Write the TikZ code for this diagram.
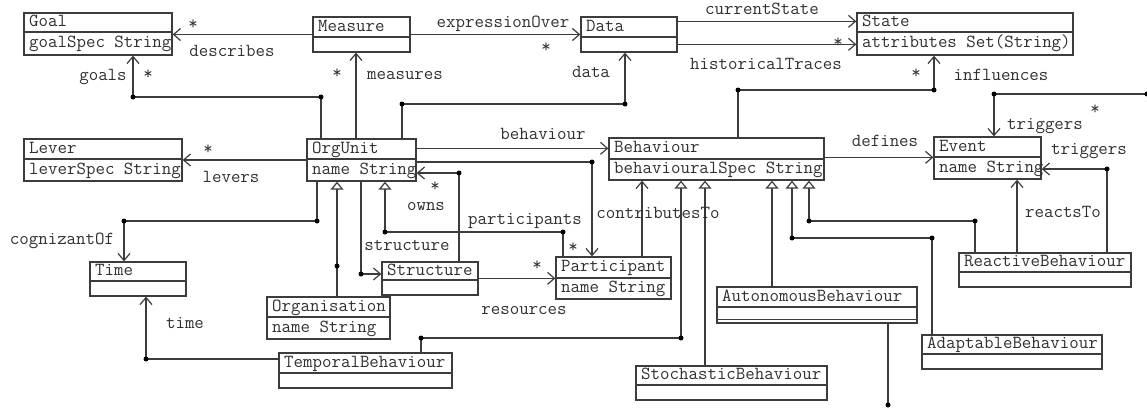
\documentclass[tikz,border=0pt]{standalone}
\usepackage{fontspec}
\usetikzlibrary{arrows.meta,calc}
\definecolor{linec}{HTML}{3C3C3C}
\definecolor{textc}{HTML}{303030}
\newcommand\umlfont{\ttfamily\fontsize{18.4}{21}\selectfont}
% class box: name, left, top, right, divider, bottom, title, attribute
\newcommand\umlclass[8]{%
  \node[classbox, minimum width={#4-#2}, minimum height={#6-#3}] (#1) at ({(#2+#4)/2},{(#3+#6)/2}) {};
  \draw[ink] (#2,#5) -- (#4,#5);
  \node[txt, anchor=west] (#1-name) at ({#2+5},{(#3+#5)/2}) {#7};
  \node[txt, anchor=west] (#1-attr) at ({#2+5},{(#5+#6)/2}) {#8};
}
\begin{document}
\begin{tikzpicture}[x=1pt,y=-1pt,
  ink/.style={draw=linec, line width=1.3pt},
  classbox/.style={ink, rectangle, inner sep=0pt, fill=white},
  txt/.style={font=\umlfont, text=textc, inner sep=0pt, text height=11pt, text depth=3pt},
  mult/.style={txt, anchor=base},
  nav/.style={ink, -{Straight Barb[length=7pt,width=12pt,line width=1.2pt]}},
  gen/.style={ink, -{Triangle[open,length=8pt,width=13pt,fill=white,line width=1.2pt]}},
  jdot/.style={circle, fill=black, inner sep=0pt, minimum size=5pt},
]
\useasboundingbox (0,0) rectangle (1147,407);

% classes
\umlclass{goal}{24}{13}{172}{32}{55}{Goal}{goalSpec String}
\umlclass{measure}{313}{17}{410}{37}{52}{Measure}{}
\umlclass{data}{581}{17}{677}{37}{52}{Data}{}
\umlclass{state}{857}{13}{1073}{32}{55}{State}{attributes Set(String)}
\umlclass{lever}{24}{139}{182}{159}{181}{Lever}{leverSpec String}
\umlclass{orgunit}{307}{139}{416}{159}{181}{OrgUnit}{name String}
\umlclass{behaviour}{609}{138}{824}{159}{180}{Behaviour}{behaviouralSpec String}
\umlclass{event}{934}{137}{1041}{157}{179}{Event}{name String}
\umlclass{time}{90}{262}{186}{281}{296}{Time}{}
\umlclass{structure}{382}{262}{478}{280}{295}{Structure}{}
\umlclass{participant}{556}{257}{671}{278}{299}{Participant}{name String}
\umlclass{organisation}{267}{297}{390}{317}{339}{Organisation}{name String}
\umlclass{temporal}{279}{353}{452}{373}{388}{TemporalBehaviour}{}
\umlclass{stochastic}{636}{366}{827}{385}{400}{StochasticBehaviour}{}
\umlclass{autonomous}{717}{287}{917}{307}{323}{AutonomousBehaviour}{}
\draw[ink] (717,319.5) -- (917,319.5);
\umlclass{adaptable}{922}{335}{1102}{354}{369}{AdaptableBehaviour}{}
\umlclass{reactive}{959}{253}{1131}{272}{287}{ReactiveBehaviour}{}

% bend points and junctions
\coordinate (g1) at (321,97);  \coordinate (g2) at (133,97);
\coordinate (m1) at (356,110);
\coordinate (d1) at (402,104); \coordinate (d2) at (625,104);
\coordinate (i1) at (738,90);  \coordinate (i2) at (934,90);
\coordinate (t1) at (1147,94); \coordinate (t2) at (994,94);
\coordinate (p1) at (592,162);
\coordinate (o1) at (459,173);
\coordinate (c1) at (317,221); \coordinate (c2) at (124,221);
\coordinate (og) at (337,266);
\coordinate (s1) at (361,274);
\coordinate (pg1) at (563,232); \coordinate (pg2) at (385,232);
\coordinate (ct) at (642,230);
\coordinate (tg1) at (421,338); \coordinate (tg2) at (681,338);
\coordinate (sg) at (705,300);
\coordinate (ag) at (772,250);
\coordinate (ad1) at (932,238); \coordinate (ad2) at (792,238);
\coordinate (rg1) at (975,221); \coordinate (rg2) at (809,221);
\coordinate (rt) at (1017,230);
\coordinate (tr) at (1107,169);
\coordinate (tm) at (146,359);
\coordinate (ab) at (888,405);
\coordinate (cs) at ($(data.north east)+(0,5)$);
\coordinate (ht) at ($(data.north east)+(0,28)$);
\coordinate (b1) at ($(orgunit.north east)+(0,10)$);
\coordinate (r1) at ($(structure.north east)+(0,17)$);
\coordinate (df) at ($(behaviour.north east)+(0,20)$);

% associations
\draw[nav] (measure.west) -- (measure.west -| goal.east);
\draw[nav] (measure.east) -- (measure.east -| data.west);
\draw[nav] (cs) -- (cs -| state.west);
\draw[nav] (ht) -- (ht -| state.west);
\draw[ink] (g1 |- orgunit.north) -- (g1) -- (g2);
\draw[nav] (g2) -- (g2 |- goal.south);
\draw[nav] (m1 |- orgunit.north) -- (m1 |- measure.south);
\draw[ink] (d1 |- orgunit.north) -- (d1) -- (d2);
\draw[nav] (d2) -- (d2 |- data.south);
\draw[ink] (i1 |- behaviour.north) -- (i1) -- (i2);
\draw[nav] (i2) -- (i2 |- state.south);
\draw[ink] (t1) -- (t2);
\draw[nav] (t2) -- (t2 |- event.north);
\draw[nav] (orgunit.west) -- (orgunit.west -| lever.east);
\draw[nav] (b1) -- (b1 -| behaviour.west);
\draw[ink] (p1 -| orgunit.east) -- (p1);
\draw[nav] (p1) -- (p1 |- participant.north);
\draw[ink] (o1 |- structure.north) -- (o1);
\draw[nav] (o1) -- (o1 -| orgunit.east);
\draw[ink] (c1 |- orgunit.south) -- (c1) -- (c2);
\draw[nav] (c2) -- (c2 |- time.north);
\draw[ink] (s1 |- orgunit.south) -- (s1);
\draw[nav] (s1) -- (s1 -| structure.west);
\draw[nav] (r1) -- (r1 -| participant.west);
\draw[nav] (ct |- participant.north) -- (ct |- behaviour.south);
\draw[nav] (df) -- (df -| event.west);
\draw[nav] (rt |- reactive.north) -- (rt |- event.south);
\draw[ink] (tr |- reactive.north) -- (tr);
\draw[nav] (tr) -- (tr -| event.east);
\draw[ink] (tm -| temporal.west) -- (tm);
\draw[nav] (tm) -- (tm |- time.south);
\draw[ink] (ab |- autonomous.south) -- (ab);

% generalisations
\draw[gen] (og |- organisation.north) -- (og |- orgunit.south);
\draw[ink] (pg1 |- participant.north) -- (pg1) -- (pg2);
\draw[gen] (pg2) -- (pg2 |- orgunit.south);
\draw[ink] (tg1 |- temporal.north) -- (tg1) -- (tg2);
\draw[gen] (tg2) -- (tg2 |- behaviour.south);
\draw[gen] (sg |- stochastic.north) -- (sg |- behaviour.south);
\draw[gen] (ag |- autonomous.north) -- (ag |- behaviour.south);
\draw[ink] (ad1 |- adaptable.north) -- (ad1) -- (ad2);
\draw[gen] (ad2) -- (ad2 |- behaviour.south);
\draw[ink] (rg1 |- reactive.north) -- (rg1) -- (rg2);
\draw[gen] (rg2) -- (rg2 |- behaviour.south);

% junction dots
\foreach \p in {g1,g2,d1,d2,i1,i2,t1,t2,p1,o1,c1,c2,og,s1,pg1,pg2,tg1,tg2,ad1,ad2,rg1,rg2,tr,tm,ab}
  \node[jdot] (\p-dot) at (\p) {};

% role names
\node[txt] (l-describes) at (232,52) {describes};
\node[txt] (l-expr) at (503,23) {expressionOver};
\node[txt] (l-current) at (762,10) {currentState};
\node[txt] (l-hist) at (766,65) {historicalTraces};
\node[txt] (l-goals) at (103,76) {goals};
\node[txt] (l-measures) at (405,75) {measures};
\node[txt] (l-data) at (591,73) {data};
\node[txt] (l-influences) at (1001,76) {influences};
\node[txt] (l-trig1) at (1045,125) {triggers};
\node[txt] (l-levers) at (231,178) {levers};
\node[txt] (l-behaviour) at (543,135) {behaviour};
\node[txt] (l-defines) at (885,142) {defines};
\node[txt] (l-trig2) at (1089,150) {triggers};
\node[txt] (l-owns) at (426,206) {owns};
\node[txt] (l-participants) at (525,220) {participants};
\node[txt] (l-structure) at (407,246) {structure};
\node[txt] (l-contrib) at (658,214) {contributesTo};
\node[txt] (l-reacts) at (1063,213) {reactsTo};
\node[txt] (l-cogn) at (62,240) {cognizantOf};
\node[txt] (l-resources) at (524,310) {resources};
\node[txt] (l-time) at (185,324) {time};

% multiplicities
\node[mult] (s-describes) at (193,29.5) {*};
\node[mult] (s-expr) at (546,52.5) {*};
\node[mult] (s-hist) at (838,47.5) {*};
\node[mult] (s-goals) at (148,79.5) {*};
\node[mult] (s-measures) at (337,78.5) {*};
\node[mult] (s-levers) at (208,154.5) {*};
\node[mult] (s-owns) at (435,191.5) {*};
\node[mult] (s-participants) at (573,252.5) {*};
\node[mult] (s-resources) at (537,270.5) {*};
\node[mult] (s-influences) at (916,78.5) {*};
\node[mult] (s-trig) at (1095,114.5) {*};
\end{tikzpicture}
\end{document}
